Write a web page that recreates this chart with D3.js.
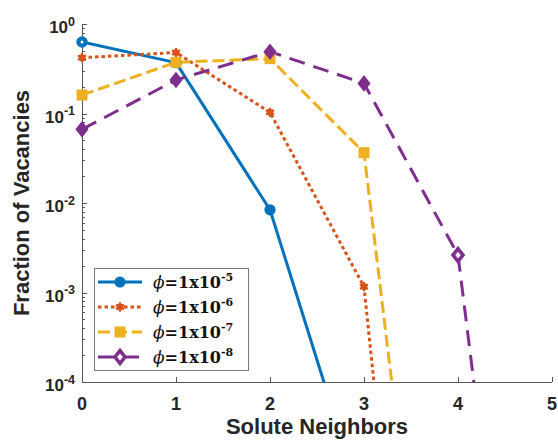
<!DOCTYPE html>
<html>
<head>
<meta charset="utf-8">
<script src="https://cdn.jsdelivr.net/npm/d3@7"></script>
<style>
  html, body { margin: 0; padding: 0; background: #fff; }
  svg { display: block; }
</style>
</head>
<body>
<svg id="chart" width="558" height="440"></svg>
<script>
// ---- data ----
const xValues = [0, 1, 2, 3, 4, 5];
const xTicks = [0, 1, 2, 3, 4, 5];
const yTickExps = [0, -1, -2, -3, -4];
const seriesNames = ["1x10", "1x10", "1x10", "1x10"];
const seriesExps = ["-5", "-6", "-7", "-8"];
const phi5 = [0.63, 0.37, 0.0084, 3.7e-6];
const phi6 = [0.42, 0.48, 0.103, 0.00116, 1e-13];
const phi7 = [0.161, 0.373, 0.41, 0.0365, 7.6e-11];
const phi8 = [0.0665, 0.237, 0.49, 0.217, 0.00262, 1e-11];
const xLabel = "Solute Neighbors";
const yLabel = "Fraction of Vacancies";

const colors = ["#0072BD", "#D95319", "#EDB120", "#7E2F8E"];
const dashes = [null, "3.5,3", "12,5", "16,9"];
const markers = ["circle", "asterisk", "square", "diamond"];
const allSeries = [phi5, phi6, phi7, phi8];

// ---- layout ----
const svg = d3.select("#chart");
const L = 82, R = 552, T = 24, B = 382;
const x = d3.scaleLinear().domain([0, 5]).range([L, R]);
const y = d3.scaleLog().domain([1e-4, 1]).range([B, T]);

svg.append("defs").append("clipPath").attr("id", "clip")
  .append("rect").attr("x", L).attr("y", T).attr("width", R - L).attr("height", B - T);

const axisColor = "#555";
const labelColor = "#262626";

const ax = svg.append("g").attr("class", "axes");
ax.append("line").attr("x1", L + 0.5).attr("x2", L + 0.5).attr("y1", T).attr("y2", B + 0.5)
  .attr("stroke", axisColor).attr("stroke-width", 1);
ax.append("line").attr("x1", L).attr("x2", R).attr("y1", B + 0.5).attr("y2", B + 0.5)
  .attr("stroke", axisColor).attr("stroke-width", 1);

xTicks.forEach(t => {
  const px = Math.round(x(t)) + 0.5;
  ax.append("line").attr("x1", px).attr("x2", px).attr("y1", B).attr("y2", B - 5)
    .attr("stroke", axisColor);
  ax.append("text").attr("x", x(t)).attr("y", B + 28)
    .attr("text-anchor", "middle")
    .attr("font-family", "Liberation Sans, Arial, sans-serif")
    .attr("font-weight", "bold").attr("font-size", 18).attr("fill", labelColor)
    .text(t);
});

yTickExps.forEach(e => {
  const v = Math.pow(10, e);
  const py = Math.round(y(v)) + 0.5;
  ax.append("line").attr("x1", L).attr("x2", L + 5).attr("y1", py).attr("y2", py)
    .attr("stroke", axisColor);
  const tx = ax.append("text").attr("x", 75).attr("y", y(v) + 9)
    .attr("text-anchor", "end")
    .attr("font-family", "Liberation Sans, Arial, sans-serif")
    .attr("font-weight", "bold").attr("fill", labelColor);
  tx.append("tspan").attr("font-size", 17).text("10");
  tx.append("tspan").attr("font-size", 12.5).attr("dy", -7.5).text(e === 0 ? "0" : String(e));
  if (e < 0) {
    for (let k = 2; k <= 9; k++) {
      const mv = k * v;
      const my = Math.round(y(mv)) + 0.5;
      ax.append("line").attr("x1", L).attr("x2", L + 3).attr("y1", my).attr("y2", my)
        .attr("stroke", axisColor);
    }
  }
});

svg.append("text").attr("x", (L + R) / 2).attr("y", 434)
  .attr("text-anchor", "middle")
  .attr("font-family", "Liberation Sans, Arial, sans-serif")
  .attr("font-weight", "bold").attr("font-size", 22).attr("fill", labelColor)
  .text(xLabel);
svg.append("text").attr("transform", `translate(29,${(T + B) / 2}) rotate(-90)`)
  .attr("text-anchor", "middle")
  .attr("font-family", "Liberation Sans, Arial, sans-serif")
  .attr("font-weight", "bold").attr("font-size", 22).attr("fill", labelColor)
  .text(yLabel);

function drawMarker(g, type, cx, cy, color, hollow) {
  if (type === "circle") {
    if (hollow) {
      g.append("circle").attr("cx", cx).attr("cy", cy).attr("r", 3.6)
        .attr("fill", "#fff").attr("stroke", color).attr("stroke-width", 4.2);
    } else {
      g.append("circle").attr("cx", cx).attr("cy", cy).attr("r", 5.6).attr("fill", color);
    }
  } else if (type === "asterisk") {
    g.append("circle").attr("cx", cx).attr("cy", cy).attr("r", 3.4).attr("fill", color);
    g.append("path").attr("d", d3.symbol(d3.symbolAsterisk, 60)())
      .attr("transform", `translate(${cx},${cy})`)
      .attr("fill", "none").attr("stroke", color).attr("stroke-width", 2.2);
  } else if (type === "square") {
    g.append("rect").attr("x", cx - 5.5).attr("y", cy - 5.5).attr("width", 11).attr("height", 11)
      .attr("fill", color);
  } else if (type === "diamond") {
    const p = `M${cx},${cy - 6.3}L${cx + 5},${cy}L${cx},${cy + 6.3}L${cx - 5},${cy}Z`;
    if (hollow) {
      g.append("path").attr("d", p).attr("fill", "#fff").attr("stroke", color)
        .attr("stroke-width", 3.6).attr("stroke-linejoin", "miter");
    } else {
      g.append("path").attr("d", p).attr("fill", color).attr("stroke", color)
        .attr("stroke-width", 2.5);
    }
  }
}

const lineGen = d3.line().x((d, i) => x(xValues[i])).y(d => y(d));
const plot = svg.append("g");
allSeries.forEach((s, k) => {
  plot.append("path").datum(s)
    .attr("clip-path", "url(#clip)")
    .attr("d", lineGen)
    .attr("fill", "none")
    .attr("stroke", colors[k])
    .attr("stroke-width", 3)
    .attr("stroke-dasharray", dashes[k])
    .attr("stroke-linejoin", "round");
});
allSeries.forEach((s, k) => {
  s.forEach((v, i) => {
    if (v < 1e-4 || v > 1) return;
    const hollow = (k === 0 && i === 0) || (k === 3 && i === 4);
    drawMarker(plot, markers[k], x(xValues[i]), y(v), colors[k], hollow);
  });
});

const lg = svg.append("g");
lg.append("rect").attr("x", 94.5).attr("y", 268.5).attr("width", 154).attr("height", 102)
  .attr("fill", "#fff").attr("stroke", "#777").attr("stroke-width", 1);
seriesExps.forEach((e, k) => {
  const ry = 282 + k * 25;
  lg.append("line").attr("x1", 98).attr("x2", 142).attr("y1", ry).attr("y2", ry)
    .attr("stroke", colors[k]).attr("stroke-width", 3)
    .attr("stroke-dasharray", dashes[k]);
  drawMarker(lg, markers[k], 120, ry, colors[k], k === 3);
  const t = lg.append("text").attr("x", 153).attr("y", ry + 6)
    .attr("font-family", "DejaVu Serif, serif").attr("fill", "#111");
  t.append("tspan").attr("font-style", "italic").attr("font-size", 17).text("ϕ");
  t.append("tspan").attr("font-weight", "bold").attr("font-size", 16).text("=" + seriesNames[k]);
  t.append("tspan").attr("font-weight", "bold").attr("font-size", 11).attr("dy", -7).text(e);
});
</script>
</body>
</html>
